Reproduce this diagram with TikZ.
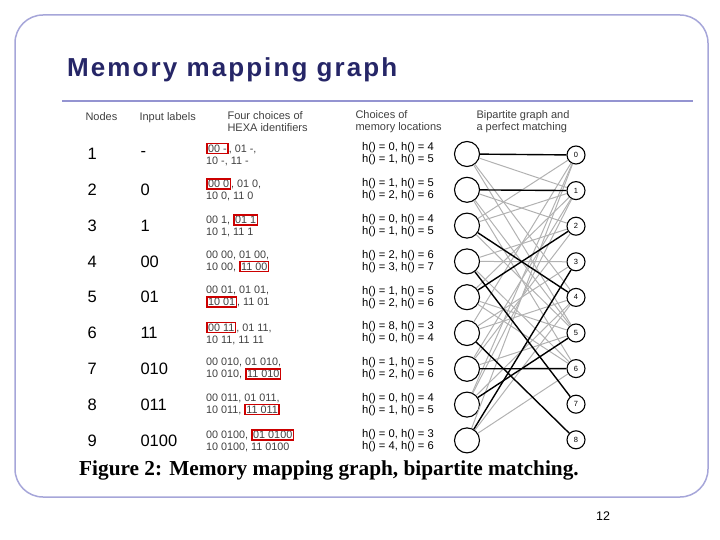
\documentclass[tikz,border=0pt]{standalone}
\usepackage{fontspec}
\setmainfont{Liberation Sans}
\newfontfamily\capfont{Liberation Serif}
\newfontfamily\titfont[LetterSpace=8]{Liberation Sans}
\setlength\fboxsep{0.4pt}\setlength\fboxrule{1.6pt}
\newcommand\rbx[1]{\fcolorbox{red!80!black}{white}{#1}}
\begin{document}
\begin{tikzpicture}[x=1pt,y=-1pt,
  hd/.style={anchor=west,font=\fontsize{11}{12}\selectfont,text=black!75,align=left},
  num/.style={anchor=west,font=\fontsize{16.5}{17}\selectfont},
  hx/.style={anchor=west,font=\fontsize{10.8}{12}\selectfont,text=black!75,align=left,inner sep=0},
  mem/.style={anchor=west,font=\fontsize{11.2}{12}\selectfont,align=left,inner sep=0},
  lc/.style={circle,draw,line width=1.1pt,minimum size=25pt,inner sep=0},
  rc/.style={circle,draw,line width=1.1pt,minimum size=18pt,inner sep=0,font=\fontsize{7.5}{8}\selectfont},
  ge/.style={gray!60,line width=1pt},
  me/.style={black,line width=1.4pt}]
\useasboundingbox (0,0) rectangle (720,540);
\draw[rounded corners=28pt,draw=gray!60!blue!50,line width=1.5pt] (15,15) rectangle (708,497);
\node[anchor=west,inner sep=0,font=\titfont\fontsize{26}{28}\selectfont\bfseries,text=blue!30!black!85] (title) at (67,70) {Memory mapping graph};
\draw[draw=gray!60!blue!60,line width=2.5pt] (62,101) -- (693,101);
\node[hd] (h1) at (82,117) {Nodes};
\node[hd] (h2) at (136,118) {Input labels};
\node[hd] (h3) at (224,122) {Four choices of\\HEXA identifiers};
\node[hd] (h4) at (352,122) {Choices of\\memory locations};
\node[hd] (h5) at (473,122) {Bipartite graph and\\a perfect matching};
\foreach \n/\lab/\hx/\mm [count=\i] in {
 1/-/{\rbx{00 -}, 01 -,\\10 -, 11 -}/{h() = 0, h() = 4\\h() = 1, h() = 5},
 2/0/{\rbx{00 0}, 01 0,\\10 0, 11 0}/{h() = 1, h() = 5\\h() = 2, h() = 6},
 3/1/{00 1, \rbx{01 1}\\10 1, 11 1}/{h() = 0, h() = 4\\h() = 1, h() = 5},
 4/00/{00 00, 01 00,\\10 00, \rbx{11 00}}/{h() = 2, h() = 6\\h() = 3, h() = 7},
 5/01/{00 01, 01 01,\\\rbx{10 01}, 11 01}/{h() = 1, h() = 5\\h() = 2, h() = 6},
 6/11/{\rbx{00 11}, 01 11,\\10 11, 11 11}/{h() = 8, h() = 3\\h() = 0, h() = 4},
 7/010/{00 010, 01 010,\\10 010, \rbx{11 010}}/{h() = 1, h() = 5\\h() = 2, h() = 6},
 8/011/{00 011, 01 011,\\10 011, \rbx{11 011}}/{h() = 0, h() = 4\\h() = 1, h() = 5},
 9/0100/{00 0100, \rbx{01 0100}\\10 0100, 11 0100}/{h() = 0, h() = 3\\h() = 4, h() = 6}} {
  \pgfmathsetmacro\yy{154+35.8*(\i-1)}
  \node[num] (n\i) at (84,\yy) {\n};
  \node[num] (l\i) at (137,\yy) {\lab};
  \node[hx] (x\i) at (206,\yy) {\hx};
  \node[mem] (m\i) at (362,\yy) {\mm};
  \node[lc] (L\i) at (467,\yy) {};
}
\foreach \j in {0,...,8} {
  \pgfmathsetmacro\yy{155+35.6*\j}
  \node[rc] (R\j) at (576,\yy) {\j};
}
\foreach \a/\b in {1/4,1/1,1/5, 2/5,2/2,2/6, 3/0,3/1,3/5, 4/2,4/6,4/3, 5/1,5/5,5/6, 6/3,6/0,6/4, 7/1,7/5,7/2, 8/0,8/4,8/1, 9/0,9/4,9/6}
  \draw[ge] (L\a) -- (R\b);
\foreach \a/\b in {1/0,2/1,3/4,4/7,5/2,6/8,7/6,8/5,9/3}
  \draw[me] (L\a) -- (R\b);
\node[anchor=west,inner sep=0,font=\capfont\fontsize{21.3}{23}\selectfont\bfseries] (cap) at (79,470) {Figure 2: Memory mapping graph, bipartite matching.};
\node[font=\fontsize{12.5}{14}\selectfont] (pg) at (603,516) {12};
\end{tikzpicture}
\end{document}
